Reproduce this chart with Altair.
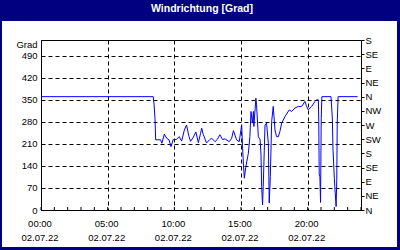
import altair as alt
import pandas as pd

# ---- data ----
times = [
    "00:00", "08:25", "08:29", "08:33", "08:36", "08:58", "09:04", "09:15", "09:25", "09:36",
    "09:45", "09:55", "10:10", "10:22", "10:33", "10:45", "10:55", "11:06", "11:13", "11:25",
    "11:37", "11:48", "11:58", "12:03", "12:10", "12:25", "12:40", "12:48", "13:03", "13:13",
    "13:25", "13:37", "13:48", "14:07", "14:18", "14:26", "14:40", "14:52", "15:03", "15:07",
    "15:11", "15:15", "15:21", "15:33", "15:40", "15:45", "15:51", "15:56", "15:58", "16:07",
    "16:10", "16:18", "16:26", "16:30", "16:33", "16:37", "16:40", "16:48", "16:55", "17:03",
    "17:06", "17:07", "17:12", "17:18", "17:25", "17:33", "17:40", "17:48", "17:55", "18:03",
    "18:18", "18:37", "18:48", "19:03", "19:18", "19:33", "19:48", "19:55", "20:03", "20:18",
    "20:33", "20:40", "20:48", "20:50", "20:52", "20:55", "20:58", "21:01", "21:04", "21:45",
    "21:51", "21:54", "22:00", "22:03", "22:08", "22:11", "22:13", "22:17", "23:45",
]
grad = [
    360, 360, 334, 290, 223, 223, 212, 241, 228, 223,
    201, 224, 224, 233, 219, 254, 270, 233, 218, 231,
    248, 214, 243, 260, 240, 213, 224, 228, 217, 224,
    239, 224, 226, 217, 228, 252, 223, 217, 270, 201,
    143, 101, 134, 180, 233, 313, 276, 313, 265, 355,
    334, 233, 223, 175, 74, 16, 74, 270, 276, 212,
    74, 22, 106, 281, 329, 254, 233, 233, 249, 276,
    297, 318, 313, 324, 329, 329, 345, 329, 318, 329,
    345, 350, 350, 280, 111, 108, 24, 290, 360, 360,
    292, 191, 101, 64, 11, 95, 276, 360, 360,
]
title_text = "Windrichtung [Grad]"
day = "2022-07-02"
major_hours = [0, 5, 10, 15, 20]
left_ticks = [0, 70, 140, 210, 280, 350, 420, 490]
right_ticks = [0, 45, 90, 135, 180, 225, 270, 315, 360, 405, 450, 495, 540]
directions = ["N", "NE", "E", "SE", "S", "SW", "W", "NW"]
minor_hours = list(range(0, 25))

df = pd.DataFrame({"time": [f"{day}T{t}" for t in times], "grad": grad})
ticks_df = pd.DataFrame({"time": [
    f"{day}T{h:02d}:00" if h < 24 else "2022-07-03T00:00" for h in minor_hours
]})

W, H = 320, 170
NAVY = "#000080"
FONT = "Liberation Sans"
FS = 9.5


def dt(h):
    if h >= 24:
        return alt.DateTime(year=2022, month=7, date=3, hours=0)
    return alt.DateTime(year=2022, month=7, date=2, hours=h)


x = alt.X(
    "time:T",
    title=None,
    scale=alt.Scale(domain=[dt(0), dt(24)]),
    axis=alt.Axis(
        values=[dt(h) for h in major_hours],
        labelExpr="[timeFormat(datum.value, '%H:%M'), timeFormat(datum.value, '%d.%m.%y')]",
        grid=True,
        ticks=False,
        labelPadding=8,
        labelLineHeight=14,
        labelFlush=False,
        labelOverlap=False,
        labelOffset=-1.5,
    ),
)

yscale = alt.Scale(domain=[0, 540], nice=False, zero=True)

left_layer = alt.Chart(df).mark_line(strokeOpacity=0).encode(
    x=x,
    y=alt.Y(
        "grad:Q",
        scale=yscale,
        axis=alt.Axis(
            orient="left",
            values=left_ticks,
            grid=True,
            ticks=False,
            labelPadding=4,
            labelOverlap=False,
            title="Grad",
            titleAngle=0,
            titleAlign="right",
            titleBaseline="middle",
            titleX=-4,
            titleY=4,
            titleFont=FONT,
            titleFontSize=FS,
            titleFontWeight="normal",
            titleColor="black",
        ),
    ),
)

line_layer = alt.Chart(df).mark_line(color="#0000FF", strokeWidth=1).encode(
    x=x,
    y=alt.Y(
        "grad:Q",
        scale=yscale,
        axis=alt.Axis(
            orient="right",
            values=right_ticks,
            grid=False,
            ticks=True,
            tickSize=3,
            tickColor="black",
            labelPadding=1,
            labelOverlap=False,
            labelExpr="%s[round(datum.value / 45) %% 8]" % str(directions).replace("'", '"'),
            title=None,
        ),
    ),
)

minor_ticks = alt.Chart(ticks_df).mark_rule(color="black", strokeWidth=1).encode(
    x=x,
    y=alt.value(H),
    y2=alt.value(H - 3),
)

one = alt.InlineData(values=[{"label": title_text}])


def frame_rect(x0, x1, y0, y1):
    return alt.Chart(one).mark_rect(color=NAVY).encode(
        x=alt.value(x0), x2=alt.value(x1), y=alt.value(y0), y2=alt.value(y1)
    )


frame = [
    frame_rect(-41, W + 39, -40, -19),      # title bar
    frame_rect(-41, -39, -40, H + 40),      # left border
    frame_rect(W + 36, W + 39, -40, H + 40),  # right border
    frame_rect(-41, W + 39, H + 37, H + 40),  # bottom border
]

title = alt.Chart(one).mark_text(
    color="white", font=FONT, fontSize=10.5, fontWeight="bold",
    align="center", baseline="middle",
).encode(
    text="label:N",
    x=alt.value(W / 2 + 1),
    y=alt.value(-31),
)

chart = (
    alt.layer(*frame, title, left_layer, minor_ticks, line_layer)
    .resolve_scale(y="shared")
    .resolve_axis(y="independent")
    .properties(
        width=W,
        height=H,
        autosize=alt.AutoSizeParams(type="none"),
        padding={"left": 41, "top": 40, "right": 39, "bottom": 40},
        background="white",
    )
    .configure_view(stroke="black", strokeWidth=1, fill="white")
    .configure_axis(
        domainColor="black",
        domainWidth=1,
        labelColor="black",
        labelFont=FONT,
        labelFontSize=FS,
        gridColor="black",
        gridDash=[4, 3],
        gridOpacity=1,
        gridWidth=1,
    )
)

chart.save("out.html", embed_options={"renderer": "svg", "actions": False})
